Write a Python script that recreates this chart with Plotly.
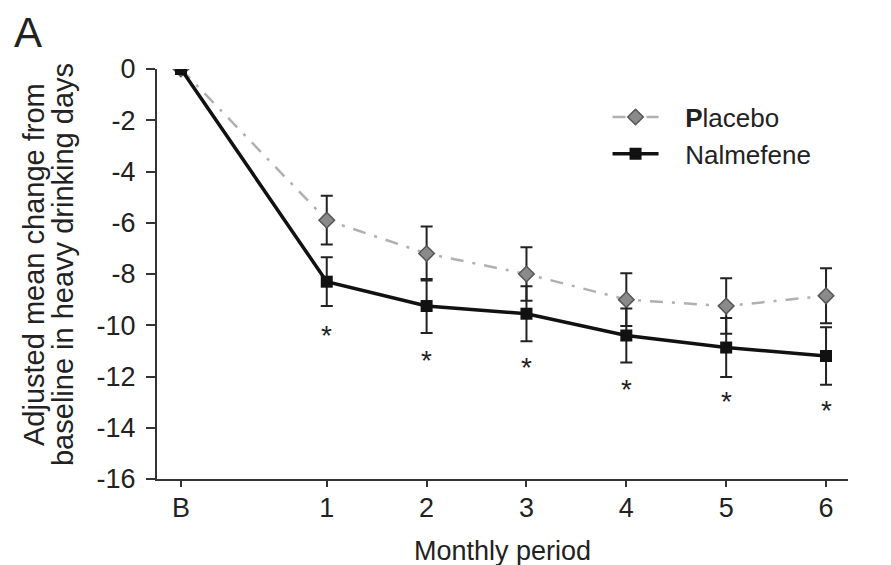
import plotly.graph_objects as go

# ---- data ----
months = ["B", "1", "2", "3", "4", "5", "6"]
month_pos = [-0.46, 1, 2, 3, 4, 5, 6]
placebo = [0, -5.9, -7.2, -8.0, -9.0, -9.25, -8.85]
placebo_err = [0, 0.95, 1.05, 1.04, 1.03, 1.08, 1.07]
nalmefene = [0, -8.3, -9.25, -9.55, -10.4, -10.87, -11.2]
nalmefene_err = [0, 0.95, 1.05, 1.07, 1.05, 1.15, 1.12]
significant = [False, True, True, True, True, True, True]
y_ticks = [0, -2, -4, -6, -8, -10, -12, -14, -16]
y_title_lines = ["Adjusted mean change from", "baseline in heavy drinking days"]

FONT = "Liberation Sans, Arial, sans-serif"
TXT = "#222222"
NB = "\u00a0\u00a0\u00a0"

fig = go.Figure()

fig.add_trace(go.Scatter(
    x=month_pos, y=placebo, name=NB + "<b>P</b>lacebo",
    mode="lines+markers",
    line=dict(color="#b0b0b0", width=2.5, dash="13px,9px,3px,9px"),
    marker=dict(symbol="diamond", size=12, color="#8a8a8a",
                line=dict(color="#555555", width=1.5)),
    error_y=dict(type="data", array=placebo_err, visible=True,
                 color="#222222", thickness=2, width=6),
))

fig.add_trace(go.Scatter(
    x=month_pos, y=nalmefene, name=NB + "Nalmefene",
    mode="lines+markers",
    line=dict(color="#111111", width=3.5),
    marker=dict(symbol="square", size=12, color="#111111"),
    error_y=dict(type="data", array=nalmefene_err, visible=True,
                 color="#222222", thickness=2, width=6),
))

# significance asterisks below the Nalmefene points
for xp, v, s in zip(month_pos, nalmefene, significant):
    if s:
        fig.add_annotation(x=xp, y=v, xref="x", yref="y", text="*",
                           showarrow=False, yanchor="middle", yshift=-54,
                           font=dict(family=FONT, size=28, color=TXT))

fig.add_annotation(x=-0.208, y=1.090, xref="paper", yref="paper", text="A",
                   showarrow=False, xanchor="left", yanchor="middle", borderpad=0,
                   font=dict(family=FONT, size=42, color=TXT))

# two-line y axis title
for line_text, xp in zip(y_title_lines, [-0.178, -0.136]):
    fig.add_annotation(x=xp, y=0.522, xref="paper", yref="paper", text=line_text,
                       textangle=-90, showarrow=False, xanchor="center", yanchor="middle",
                       font=dict(family=FONT, size=29, color=TXT))

fig.update_layout(
    width=891, height=565,
    margin=dict(l=149, r=51, t=61, b=94),
    paper_bgcolor="white", plot_bgcolor="white",
    font=dict(family=FONT, size=26, color=TXT),
    showlegend=True,
    legend=dict(x=0.652, y=0.94, xanchor="left", yanchor="top",
                bgcolor="rgba(0,0,0,0)", font=dict(size=26, family=FONT),
                itemwidth=46, tracegroupgap=0),
)

fig.update_xaxes(
    automargin=False,
    range=[-0.70, 6.22], tickmode="array", tickvals=month_pos, ticktext=months,
    showgrid=False, zeroline=False, showline=True, linecolor="#333333", linewidth=2,
    ticks="outside", ticklen=6, tickwidth=2, tickcolor="#333333",
    tickfont=dict(size=27), ticklabelstandoff=-2,
    title=dict(text="Monthly period", font=dict(size=27), standoff=19),
)
fig.update_yaxes(
    automargin=False,
    range=[-16, 0], tickmode="array", tickvals=y_ticks,
    ticktext=[str(t) if t == 0 else "-" + str(abs(t)) for t in y_ticks],
    showgrid=False, zeroline=False, showline=True, linecolor="#333333", linewidth=2,
    ticks="outside", ticklen=9, tickwidth=2, tickcolor="#333333",
    tickfont=dict(size=27), ticklabelstandoff=5,
)

fig.write_html("out.html")
